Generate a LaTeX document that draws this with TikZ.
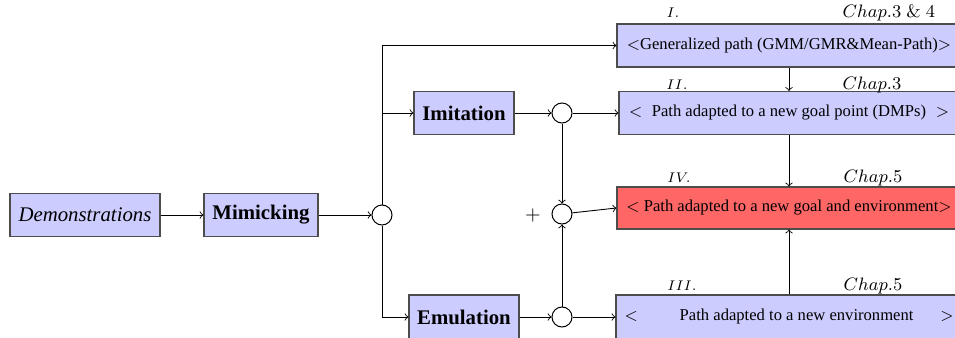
\documentclass[tikz,border=0pt]{standalone}
\usepackage[no-math]{fontspec}
\setmainfont{Liberation Serif}
\begin{document}
\begin{tikzpicture}[x=0.5pt,y=-0.5pt,
  font=\fontsize{10.4}{12.5}\selectfont,
  box/.style={draw=black!70, line width=0.55pt, fill=blue!20, inner sep=0pt, minimum height=21.5pt},
  rbox/.style={box, font=\fontsize{8.3}{10}\selectfont},
  redbox/.style={rbox, fill=red!60},
  junc/.style={circle, draw, line width=0.5pt, fill=white, minimum size=10pt, inner sep=0pt},
  conn/.style={->, line width=0.45pt},
  numlbl/.style={inner sep=0pt, font=\scriptsize},
  chaplbl/.style={inner sep=0pt, font=\small}]
\useasboundingbox (0,0) rectangle (955,338);
\clip (0,0) rectangle (955,338);
% left part
\node[box, minimum width=75pt] (demo) at (85,215) {\textit{Demonstrations}};
\node[box, minimum width=57pt] (mim) at (261,215) {\textbf{Mimicking}};
\node[junc] (c1) at (382,215) {};
\node[box, minimum width=50pt] (imit) at (464,113) {\textbf{Imitation}};
\node[box, minimum width=55pt, minimum height=22pt] (emu) at (464,317) {\textbf{Emulation}};
\node[junc] (cI) at (562,113) {};
\node[junc] (cS) at (562,214) {};
\node[junc] (cE) at (562,317) {};
\node[inner sep=0pt] (plus) at (533,215) {$+$};
% right boxes
\node[rbox, minimum width=172pt] (bI) at (789,45.5) {$<$Generalized path (GMM/GMR\&Mean-Path)$>$};
\node[rbox, minimum width=170pt] (bII) at (789,113) {\makebox[160pt]{$<$\hfill Path adapted to a new goal point (DMPs)\hfill$>$}};
\node[redbox, minimum width=172pt, minimum height=21pt] (bIV) at (789,208) {$<$ Path adapted to a new goal and environment$>$};
\node[rbox, minimum width=173pt, minimum height=22pt] (bIII) at (789,317) {\makebox[164.5pt]{$<$\hspace{21pt}Path adapted to a new environment\hfill$>$}};
% labels
\node[numlbl] (nI) at (673,13) {$I.$};
\node[chaplbl] (chI) at (889,13) {$Chap.3\;\&\;4$};
\node[numlbl] (nII) at (677,85) {$II.$};
\node[chaplbl] (chII) at (872,85) {$Chap.3$};
\node[numlbl] (nIV) at (679,178) {$IV.$};
\node[chaplbl] (chIV) at (873,178) {$Chap.5$};
\node[numlbl] (nIII) at (682,286) {$III.$};
\node[chaplbl] (chIII) at (873,286) {$Chap.5$};
% connectors
\draw[conn] (demo) -- (mim);
\draw[conn] (mim) -- (c1);
\draw[conn] (c1.north) |- (bI.west);
\draw[conn] (c1.north) |- (imit.west);
\draw[conn] (c1.south) |- (emu.west);
\draw[conn] (imit) -- (cI);
\draw[conn] (cI) -- (cI -| bII.west);
\draw[conn] (emu) -- (cE);
\draw[conn] (cE) -- (cE -| bIII.west);
\draw[conn] (cI) -- (cS);
\draw[conn] (cE) -- (cS);
\draw[conn] (cS) -- (bIV.west);
\draw[conn] (bI.south) -- (bII.north);
\draw[conn] (bII) -- (bIV);
\draw[conn] (bIII) -- (bIV);
\end{tikzpicture}
\end{document}
